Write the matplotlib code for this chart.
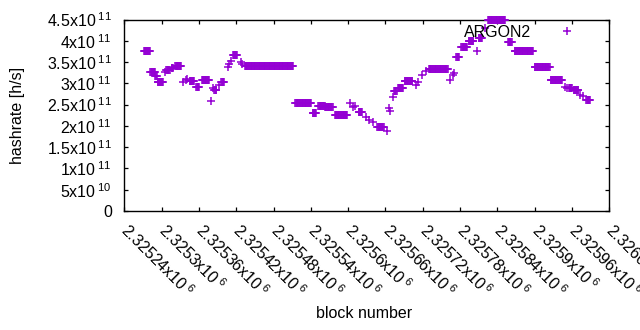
import numpy as np
import matplotlib
matplotlib.use("Agg")
import matplotlib.pyplot as plt
from matplotlib.ticker import FixedLocator, FuncFormatter

plt.rcParams['font.family'] = ['Liberation Sans', 'DejaVu Sans']
plt.rcParams['mathtext.fontset'] = 'custom'
plt.rcParams['mathtext.rm'] = 'Liberation Sans'
plt.rcParams['mathtext.default'] = 'regular'

# runs of equal hashrate: first block, last block, hashrate [1e11 h/s]
run_first = [2325272, 2325282, 2325290, 2325294, 2325305, 2325307, 2325309, 2325316,
             2325322, 2325335, 2325339, 2325341, 2325345, 2325356, 2325365, 2325379,
             2325382, 2325385, 2325392, 2325396, 2325406, 2325408, 2325411, 2325415,
             2325427, 2325430, 2325434, 2325515, 2325543, 2325552, 2325563, 2325579,
             2325603, 2325608, 2325611, 2325617, 2325629, 2325634, 2325640, 2325647,
             2325662, 2325666, 2325668, 2325672, 2325674, 2325680, 2325691, 2325709,
             2325713, 2325718, 2325725, 2325730, 2325764, 2325768, 2325771, 2325774,
             2325782, 2325794, 2325807, 2325810, 2325820, 2325825, 2325857, 2325868,
             2325900, 2325926, 2325949, 2325952, 2325955, 2325963, 2325973, 2325978,
             2325983]
run_last = [2325281, 2325289, 2325292, 2325302, 2325305, 2325307, 2325313, 2325318,
            2325331, 2325335, 2325339, 2325341, 2325352, 2325360, 2325376, 2325379,
            2325382, 2325388, 2325392, 2325400, 2325406, 2325408, 2325411, 2325421,
            2325427, 2325430, 2325511, 2325540, 2325548, 2325562, 2325575, 2325598,
            2325603, 2325608, 2325611, 2325622, 2325629, 2325634, 2325640, 2325657,
            2325662, 2325666, 2325668, 2325672, 2325678, 2325688, 2325703, 2325709,
            2325713, 2325718, 2325725, 2325760, 2325764, 2325768, 2325771, 2325778,
            2325791, 2325801, 2325807, 2325815, 2325820, 2325852, 2325863, 2325897,
            2325924, 2325944, 2325949, 2325952, 2325960, 2325970, 2325973, 2325978,
            2325989]
run_value = [3.77, 3.26, 3.18, 3.02, 3.26, 3.31, 3.31, 3.35,
             3.41, 3.04, 3.08, 3.10, 3.05, 2.91, 3.08, 2.585,
             2.88, 2.84, 2.96, 3.03, 3.39, 3.45, 3.52, 3.67,
             3.49, 3.45, 3.41, 2.53, 2.30, 2.47, 2.44, 2.26,
             2.53, 2.45, 2.47, 2.33, 2.20, 2.14, 2.10, 1.97,
             1.88, 2.41, 2.36, 2.69, 2.83, 2.88, 3.05, 2.96,
             3.04, 3.20, 3.30, 3.33, 3.08, 3.20, 3.25, 3.61,
             3.86, 4.00, 3.77, 4.06, 4.29, 4.48, 3.97, 3.75,
             3.38, 3.07, 2.92, 2.90, 2.88, 2.84, 2.73, 2.70,
             2.60]

series_label = "ARGON2"
x_ticks = [2325240 + 60 * k for k in range(14)]
y_ticks = [0, 0.5e11, 1e11, 1.5e11, 2e11, 2.5e11, 3e11, 3.5e11, 4e11, 4.5e11]

blocks = []
rates = []
for f, l, v in zip(run_first, run_last, run_value):
    for b in range(f, l + 1):
        blocks.append(b)
        rates.append(v * 1e11)

fig = plt.figure(figsize=(6.4, 3.3), dpi=100)
ax = fig.add_axes([124.3 / 640, 1 - 211 / 330, 485 / 640, 191.5 / 330])

color = '#9400D3'
ax.plot(blocks, rates, linestyle='none', marker='+', markersize=5.2,
        markeredgewidth=1.1, color=color, label=series_label,
        clip_on=False, zorder=3)

ax.set_xlim(x_ticks[0], x_ticks[-1])
ax.set_ylim(0, 4.5e11)


def sci(v, pos=None):
    if v == 0:
        return "0"
    e = int(np.floor(np.log10(abs(v)) + 1e-9))
    m = v / 10 ** e
    return "%gx10$\\,^{%d}$" % (round(m, 6), e)


ax.xaxis.set_major_locator(FixedLocator(x_ticks))
ax.yaxis.set_major_locator(FixedLocator(y_ticks))
ax.xaxis.set_major_formatter(FuncFormatter(sci))
ax.yaxis.set_major_formatter(FuncFormatter(sci))

ax.tick_params(direction='in', length=3, width=0.9, top=True, right=True,
               labelsize=11.5, colors='black')
ax.tick_params(axis='y', pad=9)
ax.tick_params(axis='x', pad=11.5)
for lab in ax.get_xticklabels():
    lab.set_rotation(-45)
    lab.set_ha('left')
    lab.set_va('center')
    lab.set_rotation_mode('anchor')

for s in ax.spines.values():
    s.set_linewidth(1.0)
    s.set_color('black')

ax.set_ylabel("hashrate [h/s]", fontsize=11.5)
ax.set_xlabel("block number", fontsize=11.5)
ax.xaxis.set_label_coords((364 - 124.3) / 485, -(306 - 211) / 191.5)
ax.yaxis.set_label_coords(-(124.3 - 24.5) / 485, 0.5)

leg = ax.legend(loc='center right', bbox_to_anchor=(579 / 485 - 124.3 / 485, 1 - (32.3 - 19.5) / 191.5),
                frameon=False, markerfirst=False, handlelength=1.5, handletextpad=1.5,
                borderpad=0, borderaxespad=0, fontsize=11.5, numpoints=1)

fig.savefig("out.png", dpi=100)
